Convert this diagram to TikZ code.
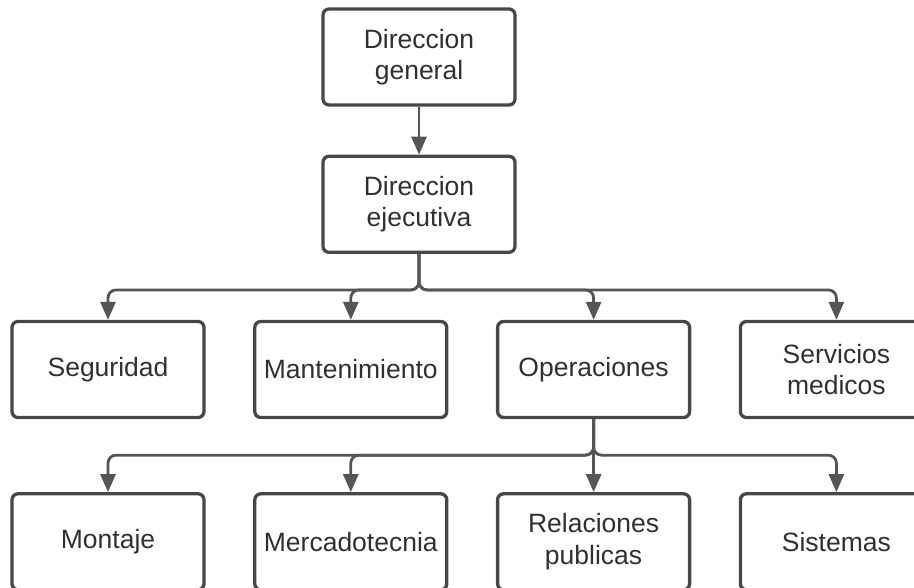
\documentclass[tikz,border=0pt]{standalone}
\usepackage{fontspec}
\setmainfont{Liberation Sans}
\usepackage{xcolor}
\usetikzlibrary{arrows.meta, positioning}
\definecolor{boxline}{HTML}{474747}
\definecolor{linkgray}{HTML}{555555}
\definecolor{textgray}{HTML}{303030}

\begin{document}
\begin{tikzpicture}[
    x=1pt, y=1pt,
    node distance=48pt and 47.5pt,
    box/.style={rectangle, draw=boxline, line width=3.3pt, text width=180pt, align=center, minimum width=192pt, minimum height=96pt, rounded corners=6pt, text=textgray, font=\fontsize{26.5}{31.5}\selectfont},
    arrow/.style={-{Triangle[length=18pt,width=15pt]}, line width=2.8pt, draw=linkgray, rounded corners=8pt}
]
\useasboundingbox (0,0) rectangle (914,-588);
\node[box] (general) at (419,-57) {Direccion\\general};
\node[box, below=of general] (ejecutiva) {Direccion\\ejecutiva};

\node[box] (seguridad) at (108,-369.5) {Seguridad};
\node[box, right=of seguridad] (mantenimiento) {Mantenimiento};
\node[box, right=of mantenimiento] (operaciones) {Operaciones};
\node[box, right=of operaciones] (servicios) {Servicios\\medicos};

\node[box, below=73pt of seguridad] (montaje) {Montaje};
\node[box, right=of montaje] (mercadotecnia) {Mercadotecnia};
\node[box, right=of mercadotecnia] (relaciones) {Relaciones\\publicas};
\node[box, right=of relaciones] (sistemas) {Sistemas};

\draw[arrow] (general) -- (ejecutiva);
\draw[arrow] (ejecutiva.south) -- ++(0,-36) -| (seguridad.north);
\draw[arrow] (ejecutiva.south) -- ++(0,-36) -| (mantenimiento.north);
\draw[arrow] (ejecutiva.south) -- ++(0,-36) -| (operaciones.north);
\draw[arrow] (ejecutiva.south) -- ++(0,-36) -| (servicios.north);

\draw[arrow] (operaciones.south) -- ++(0,-36) -| (montaje.north);
\draw[arrow] (operaciones.south) -- ++(0,-36) -| (mercadotecnia.north);
\draw[arrow] (operaciones) -- (relaciones);
\draw[arrow] (operaciones.south) -- ++(0,-36) -| (sistemas.north);
\end{tikzpicture}
\end{document}
